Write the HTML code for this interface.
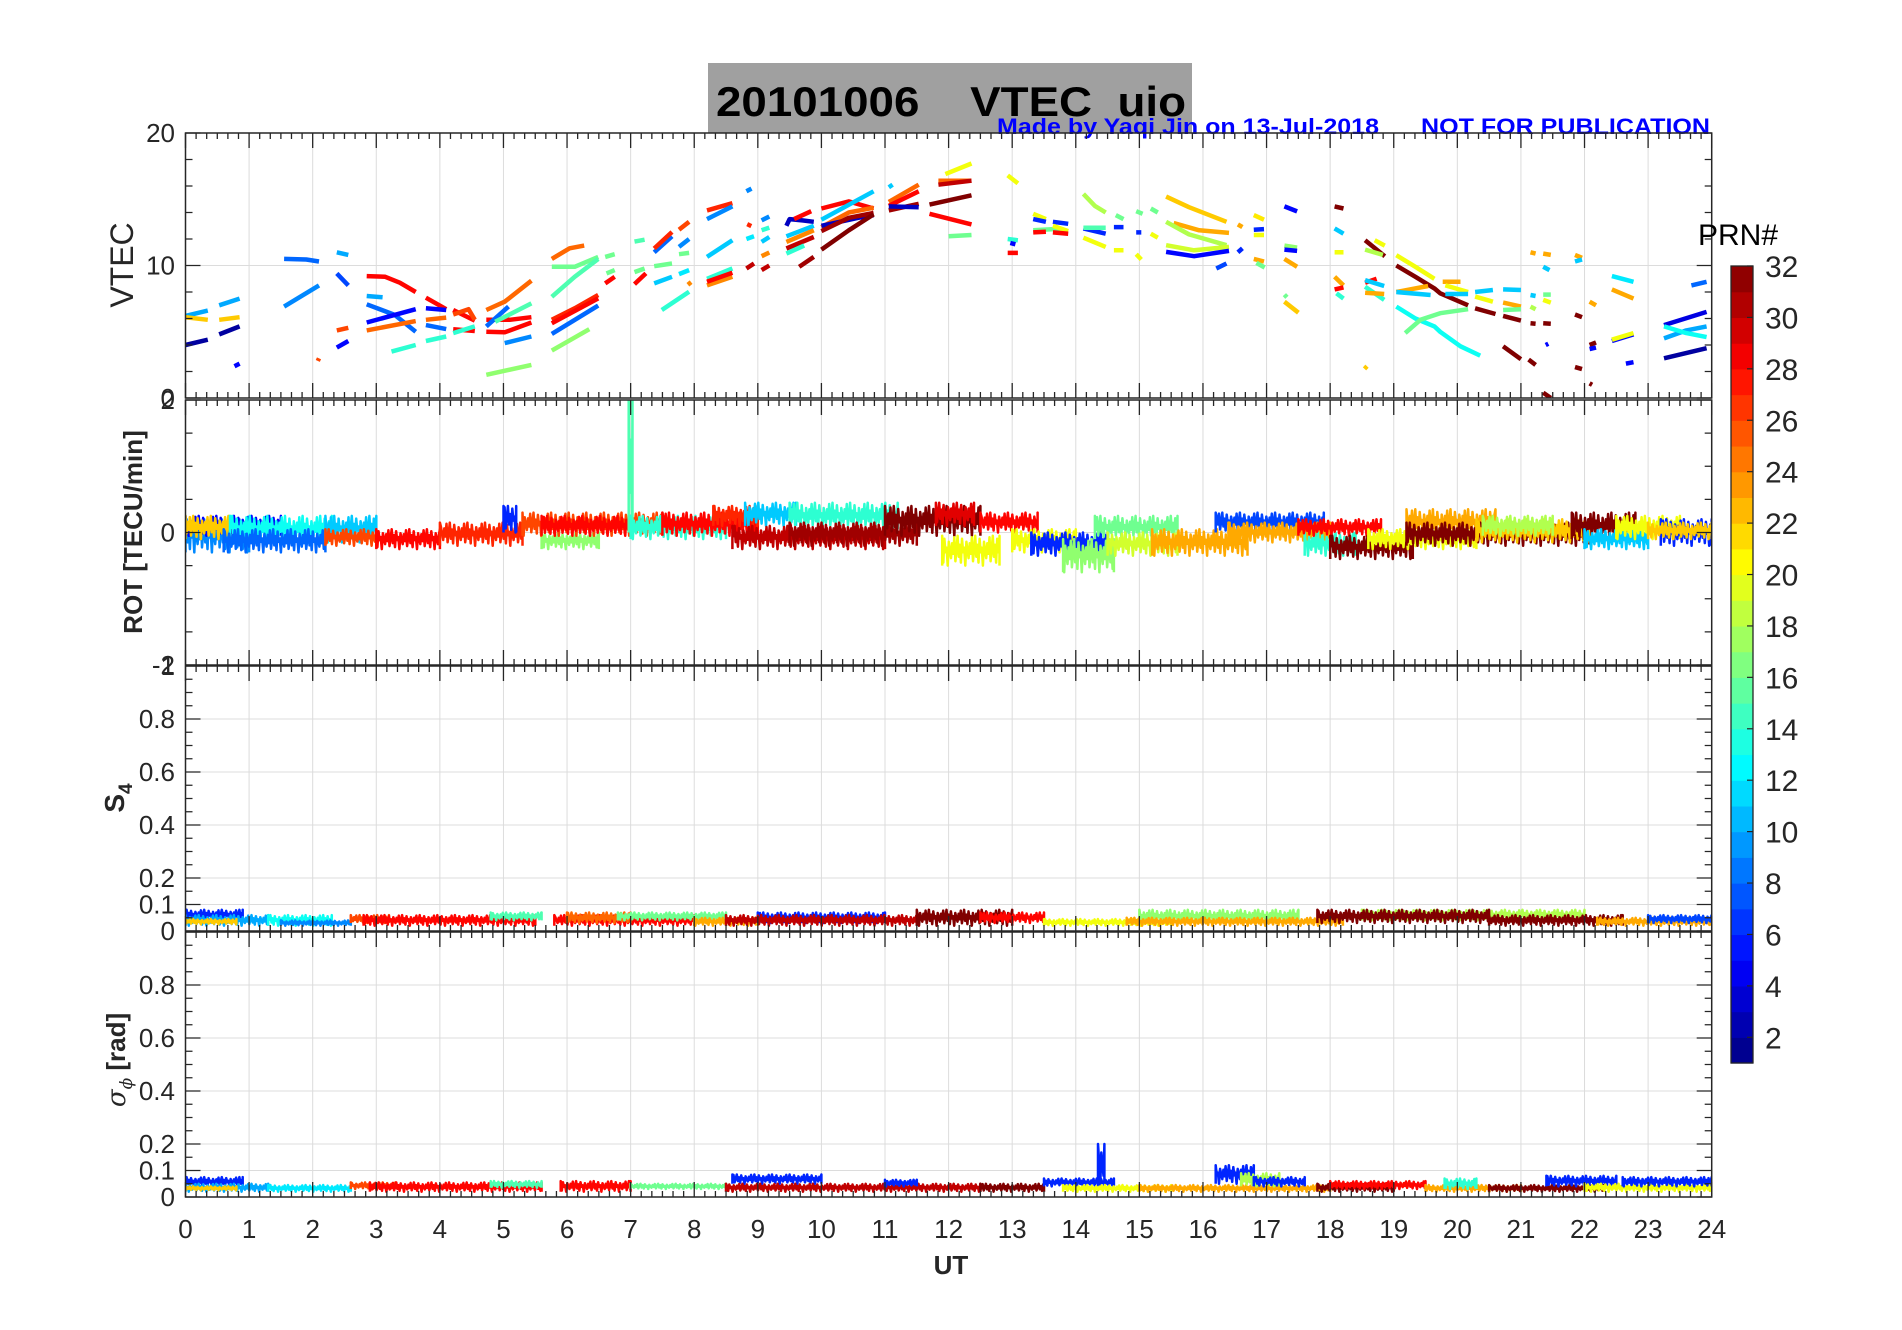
<!DOCTYPE html>
<html><head><meta charset="utf-8"><style>
html,body{margin:0;padding:0;background:#fff;}
svg{display:block;font-family:"Liberation Sans",Arial,sans-serif;}
</style></head><body>
<svg id="fig" width="1902" height="1330" viewBox="0 0 1902 1330" xmlns="http://www.w3.org/2000/svg">
<rect x="0" y="0" width="1902" height="1330" fill="#fff"/>
<rect x="708" y="63" width="484" height="70" fill="#a0a0a0"/>
<text x="716" y="116" font-size="42" font-weight="bold" fill="#000" xml:space="preserve" style="white-space:pre" textLength="470" lengthAdjust="spacingAndGlyphs">20101006    VTEC  uio</text>
<text x="997" y="134" font-size="22" font-weight="bold" fill="#0000ff" textLength="382" lengthAdjust="spacingAndGlyphs">Made by Yaqi Jin on 13-Jul-2018</text>
<text x="1421" y="134" font-size="22" font-weight="bold" fill="#0000ff" textLength="289" lengthAdjust="spacingAndGlyphs">NOT FOR PUBLICATION</text>
<g id="layer"></g>
</svg>
<script>
// ---- data ----
const hours = [0,1,2,3,4,5,6,7,8,9,10,11,12,13,14,15,16,17,18,19,20,21,22,23,24];
const vtecPrn = [10,10,22,22,2,2,5,8,9,26,10,7,26,5,28,10,8,5,25,14,28,5,25,8,14,28,28,26,14,25,28,28,8,15,9,17,25,16,15,27,28,8,17,16,16,28,15,16,28,11,16,8,27,14,26,9,16,12,24,27,9,11,14,24,28,9,27,12,14,9,11,24,30,30,3,28,11,24,30,14,31,28,11,25,3,31,32,11,25,28,31,3,32,28,25,30,20,16,
20,14,5,28,20,6,16,28,6,20,28,18,6,15,20,16,6,20,16,16,6,20,20,22,23,18,19,5,7,23,6,21,6,20,23,16,5,17,5,23,16,22,32,11,20,23,28,14,32,20,18,28,11,14,23,22,20,32,23,11,13,16,23,20,11,11,11,20,32,32,32,32,23,16,11,18,16,20,32,32,32,23,23,11,5,23,11,32,32,32,5,32,23,12,23,5,20,5,2,4,10,13,8];
const vtecArcs = [
[0,6.2,0.35,6.6],[0.53,7.0,0.85,7.5],[0,6.1,0.35,5.9],[0.53,5.9,0.85,6.1],[0,4.0,0.35,4.4],[0.53,4.8,0.85,5.4],[0.77,2.4,0.85,2.6],
[1.55,10.5,1.9,10.45,2.1,10.3],[1.55,6.9,2.1,8.5],[2.08,2.8,2.1,3.0],[2.38,11.0,2.56,10.8],[2.38,9.4,2.56,8.5],[2.38,5.1,2.56,5.3],[2.38,3.8,2.56,4.3],
[2.85,9.2,3.14,9.15,3.37,8.7,3.62,8.0],[2.85,7.7,3.1,7.6],[2.85,7.07,3.29,6.27,3.62,5.0],[2.85,5.7,3.62,6.7],[2.85,5.1,3.62,5.8],[3.24,3.5,3.62,4.0],
[3.78,7.57,4.1,6.7],[3.78,6.77,4.1,6.64],[3.78,5.9,4.1,6.07],[3.78,5.5,4.1,5.2],[3.78,4.3,4.1,4.64],[4.21,6.64,4.55,5.84],[4.21,5.19,4.55,5.06],
[4.21,6.3,4.45,6.7,4.55,5.9],[4.21,4.9,4.55,5.4],[4.73,6.64,5.02,7.27,5.44,8.85],[4.73,5.9,5.1,5.9,5.44,6.1],[4.73,5.0,5.02,4.96,5.44,5.7],
[4.73,5.4,5.08,6.9],[4.87,5.76,5.44,7.14],[5.02,4.14,5.44,4.64],[4.73,1.75,5.44,2.5],[5.76,10.5,6.04,11.3,6.27,11.5],[5.76,9.9,6.12,9.9,6.49,10.65],
[5.76,7.64,6.12,9.15,6.49,10.5],[5.76,5.9,6.12,6.77,6.49,7.77],[5.76,5.64,6.49,7.52],[5.76,4.84,6.49,6.97],[5.76,3.58,6.35,5.19],
[6.6,10.65,6.75,10.85],[6.62,9.4,6.75,9.65],[6.6,8.65,6.75,9.15],[7.06,11.8,7.22,11.95],[7.06,9.5,7.22,9.77],[7.06,8.6,7.24,9.4],
[7.37,8.65,7.65,9.15],[7.37,9.95,7.65,10.15],[7.37,11.0,7.65,12.2],[7.37,11.28,7.65,12.53],[7.49,6.64,7.92,8.02],[7.76,12.7,7.92,13.3],
[7.76,11.4,7.92,12.0],[7.76,10.85,7.92,10.95],[7.76,9.35,7.92,9.65],[7.9,8.55,7.95,8.75],[8.2,14.16,8.6,14.7],[8.2,13.5,8.6,14.46],
[8.2,10.65,8.6,11.9],[8.2,9.0,8.6,9.77],[8.2,8.5,8.6,9.15],[8.2,8.77,8.6,9.45],[8.82,15.6,8.9,15.8],[8.85,12.9,8.88,13.2],[8.82,12.0,8.94,12.2],
[9.06,12.66,9.18,12.86],[9.06,13.4,9.18,13.7],[9.06,11.78,9.18,12.15],[9.06,10.7,9.18,10.98],[8.82,9.77,8.94,10.15],[9.06,9.65,9.18,10.0],
[9.45,13.0,9.5,13.5,9.7,13.4,9.88,13.3],[9.57,13.5,9.84,14.1],[9.45,12.2,9.88,13.0],[9.45,11.78,9.88,12.66],[9.45,11.28,9.88,12.15],[9.45,10.9,9.73,11.5],
[9.65,9.9,9.88,10.65],[10.0,14.3,10.43,14.84,10.82,14.3],[10.0,13.46,10.82,15.6],[10.0,12.9,10.43,14.0,10.82,14.36],[10.0,13.0,10.58,13.6,10.82,13.8],
[10.0,12.6,10.43,13.6,10.82,13.96],[10.0,11.2,10.43,12.66,10.82,13.86],[11.06,15.9,11.12,16.1],[11.06,14.8,11.53,16.1],[11.06,14.5,11.53,15.6],
[11.06,14.16,11.53,14.66],[11.06,14.46,11.53,14.4],[11.7,14.6,12.36,15.3],[11.7,13.9,12.36,13.1],[11.84,16.4,12.36,16.4],[11.84,16.1,12.36,16.4],
[11.95,16.9,12.36,17.7],[12.0,12.2,12.36,12.3],
[12.93,16.8,13.09,16.2],[12.93,12.0,13.09,11.9],[12.97,11.7,13.05,11.6],[12.93,10.95,13.09,10.95],[13.33,13.9,13.53,13.5],[13.33,13.5,13.53,13.3],
[13.33,12.66,13.76,12.78],[13.33,12.5,13.53,12.55],[13.64,13.3,13.88,13.15],[13.64,13.0,13.88,12.6],[13.64,12.5,13.88,12.4],
[14.12,15.4,14.3,14.5,14.47,14.0],[14.12,12.8,14.47,12.4],[14.12,12.85,14.47,12.85],[14.12,12.1,14.47,11.4],[14.63,13.8,14.75,13.5],
[14.6,12.9,14.75,12.9],[14.6,11.15,14.75,11.15],[14.95,14.1,15.05,13.9],[15.18,14.3,15.29,14.0],[14.95,12.5,15.03,12.5],[15.18,12.4,15.29,12.1],
[14.95,10.85,15.03,10.45],[15.42,15.2,15.78,14.4,16.37,13.3],[15.54,13.2,15.94,12.66,16.41,12.46],[15.42,13.3,15.78,12.35,16.37,11.53],
[15.42,11.53,15.86,11.15,16.41,11.4],[15.42,11.03,15.86,10.7,16.41,11.1],[16.21,9.77,16.37,10.15],[16.55,13.1,16.62,12.9],[16.55,11.0,16.62,11.3],
[16.8,13.8,16.96,13.46],[16.8,12.7,16.96,12.75],[16.8,12.3,16.96,12.3],[16.8,10.5,16.96,10.3],[16.84,10.2,16.97,9.85],[17.28,14.46,17.48,14.08],
[17.28,11.5,17.48,11.35],[17.28,11.2,17.48,11.1],[17.28,10.5,17.48,9.9],[17.28,7.8,17.32,7.6],[17.28,7.27,17.5,6.44],[18.07,14.46,18.21,14.3],
[18.07,12.8,18.21,12.4],[18.07,11.0,18.21,11.0],[18.07,9.15,18.21,8.5],[18.07,8.2,18.21,8.35],[18.1,7.9,18.21,7.5],[18.55,11.9,18.86,10.7],
[18.7,11.9,18.86,11.5],[18.55,11.2,18.83,10.8],[18.55,8.7,18.73,9.0],[18.55,8.9,18.85,8.45],[18.55,8.4,18.85,7.4],[18.55,7.95,18.85,7.85],
[18.54,2.2,18.58,2.4],[19.04,10.78,19.34,9.9,19.64,9.0],[19.04,10.0,19.34,9.15,19.64,8.27,19.73,7.9,20.17,7.0],[19.04,8.0,19.54,8.45],
[19.04,8.0,19.58,7.77],[19.04,6.9,19.34,6.0,19.64,5.4,19.73,5.0,20.05,3.9,20.36,3.2],[19.18,4.9,19.42,5.9,19.73,6.4,20.17,6.7],
[19.77,8.77,20.05,8.77],[19.81,8.5,20.17,8.0],[19.81,7.85,20.17,7.85],[20.28,8.0,20.56,8.15],[20.72,8.2,21.0,8.15],[20.28,7.65,20.56,7.27],
[20.28,6.77,20.6,6.34],[20.72,6.2,21.0,5.84],[21.15,5.64,21.23,5.6],[21.35,5.64,21.47,5.6],[20.72,7.2,21.0,6.9],[20.72,6.64,21.0,6.7],
[21.15,7.77,21.23,7.7],[21.15,6.9,21.23,6.7],[21.35,7.8,21.47,7.8],[21.35,7.4,21.47,7.2],[20.72,3.9,21.0,2.93],[21.12,2.9,21.23,2.5],
[21.35,0.4,21.47,0.0],[21.15,11.0,21.23,10.9],[21.35,10.9,21.47,10.8],[21.35,9.9,21.45,9.65],[21.39,4.0,21.43,4.1],[21.85,10.8,21.96,10.58],
[21.85,10.3,21.96,10.45],[21.85,6.3,21.96,6.1],[21.85,2.33,21.96,2.18],[22.08,4.0,22.18,4.2],[22.08,3.7,22.18,3.8],[22.08,1.1,22.12,1.0],
[22.08,7.27,22.18,7.0],[22.43,9.2,22.77,8.77],[22.43,8.2,22.77,7.5],[22.43,4.3,22.77,4.8],[22.43,4.4,22.77,4.9],[22.65,2.6,22.77,2.7],
[23.25,3.0,23.92,3.76],[23.25,5.5,23.92,6.5],[23.25,4.5,23.6,5.1,23.92,5.4],[23.25,5.4,23.6,4.9,23.92,4.6],[23.68,8.5,23.92,8.77]
];
// ROT bands: [prn, tStart, tEnd, low, high]
const rotBands = [[9,0,1.0,-0.3,0.2],[5,0,1.5,-0.05,0.25],[22,0,0.7,-0.1,0.25],[13,0.7,2.3,-0.15,0.25],[8,0.6,2.2,-0.3,0.05],[11,2.2,3.0,-0.15,0.25],
[26,2.2,3.0,-0.2,0.05],[28,3.0,4.0,-0.25,0.05],[27,4.0,5.3,-0.2,0.15],[6,5.0,5.2,0.0,0.4],[17,5.6,6.5,-0.25,0],[26,5.3,7.5,-0.05,0.3],
[28,5.6,7.0,-0.05,0.25],[15,6.97,7.03,0.0,2.0],[14,7.0,8.5,-0.1,0.25],[28,7.5,9.0,-0.05,0.3],[27,8.3,9.0,0.1,0.4],[11,8.8,9.6,0.1,0.45],
[14,9.5,11.2,0.05,0.45],[30,8.6,11.0,-0.25,0.1],[31,9.5,11.5,-0.2,0.15],[32,11.0,12.5,-0.05,0.4],[29,11.8,12.4,0.1,0.45],[20,11.9,12.8,-0.5,-0.05],
[28,12.5,13.4,0,0.3],[20,13.0,14.0,-0.3,0.05],[6,13.3,14.5,-0.35,0],[17,13.8,14.6,-0.6,-0.1],[16,14.3,15.6,-0.1,0.25],[19,14.5,15.6,-0.35,0],
[23,15.2,16.7,-0.35,0.05],[7,16.2,17.9,0.0,0.3],[23,16.4,18.0,-0.15,0.15],[14,17.6,18.4,-0.35,0],[28,17.5,18.8,-0.05,0.2],[32,18.0,19.3,-0.4,-0.05],
[20,18.6,20.3,-0.25,0.05],[23,19.2,20.6,-0.05,0.35],[32,19.2,22.1,-0.2,0.15],[22,20.3,22.1,-0.15,0.2],[18,20.4,21.5,-0.05,0.25],[32,21.8,22.8,-0.1,0.3],
[11,22.0,23.0,-0.25,0.05],[20,22.5,23.5,-0.1,0.25],[6,23.2,24.0,-0.2,0.2],[22,23.0,24.0,-0.1,0.15]];
const s4Bands = [[6,0,0.9,0.04,0.08],[10,0,1.3,0.02,0.06],[22,0,0.8,0.025,0.045],[13,1.3,2.3,0.02,0.06],[9,1.5,2.6,0.02,0.04],[26,2.6,3.2,0.03,0.06],
[28,2.8,5.5,0.02,0.06],[15,4.8,5.6,0.04,0.07],[28,5.8,8.0,0.02,0.06],[25,6.0,7.0,0.03,0.07],[16,6.8,8.5,0.04,0.07],[23,8.0,9.0,0.02,0.05],
[6,9.0,11.0,0.03,0.07],[30,8.5,11.5,0.02,0.06],[32,11.5,13.0,0.02,0.08],[28,12.5,13.5,0.03,0.07],[20,13.5,15.5,0.02,0.045],[17,15.0,17.5,0.03,0.08],
[23,14.8,18.2,0.02,0.05],[18,18.5,22.0,0.04,0.08],[32,17.8,20.5,0.03,0.08],[32,20.5,22.6,0.02,0.06],[23,22.2,24.0,0.02,0.05],[7,23.0,24.0,0.03,0.06]];
const sigBands = [[6,0,0.9,0.04,0.075],[10,0,1.3,0.02,0.05],[22,0,0.8,0.025,0.04],[12,1.3,2.6,0.02,0.045],[26,2.6,3.3,0.03,0.055],[28,2.9,5.6,0.02,0.055],
[15,4.8,5.6,0.035,0.06],[28,5.9,7.0,0.02,0.06],[16,7.0,8.5,0.03,0.05],[6,8.6,10.0,0.05,0.085],[30,8.5,12.5,0.02,0.05],[6,11.0,11.5,0.04,0.065],
[32,12.5,13.5,0.02,0.05],[6,13.5,14.6,0.04,0.07],[6,14.35,14.45,0.04,0.2],[20,13.8,15.5,0.02,0.045],[23,15.0,18.0,0.02,0.045],[6,16.2,16.8,0.05,0.12],
[18,16.6,17.2,0.04,0.09],[6,16.8,17.6,0.04,0.075],[32,17.8,19.0,0.02,0.05],[28,18.0,19.5,0.03,0.06],[23,19.5,21.0,0.02,0.045],[14,19.8,20.3,0.03,0.07],
[32,20.5,22.3,0.02,0.045],[6,21.4,22.5,0.04,0.08],[20,22.0,24.0,0.02,0.05],[6,22.6,24.0,0.04,0.075]];
const cbTicks = [2,4,6,8,10,12,14,16,18,20,22,24,26,28,30,32];

// ---- geometry ----
const X0=185.5, X1=1711.7;
const panels=[{t:133,b:398,min:0,max:20},{t:400,b:665,min:-2,max:2},{t:666,b:931,min:0,max:1},{t:932,b:1197,min:0,max:1}];
const NS="http://www.w3.org/2000/svg";
const layer=document.getElementById('layer');
function xs(t){return X0+t*(X1-X0)/24;}
function ys(p,v){const P=panels[p];return P.b-(v-P.min)/(P.max-P.min)*(P.b-P.t);}
function jet(prn){const x=Math.min(1,Math.max(0,(prn-1)/31));
 const c=v=>Math.round(255*Math.min(1,Math.max(0,v)));
 return `rgb(${c(1.5-Math.abs(4*x-3))},${c(1.5-Math.abs(4*x-2))},${c(1.5-Math.abs(4*x-1))})`;}
function mk(tag,attrs,parent){const e=document.createElementNS(NS,tag);for(const k in attrs)e.setAttribute(k,attrs[k]);(parent||layer).appendChild(e);return e;}
const defs=mk('defs',{});
panels.forEach((P,i)=>{const cp=mk('clipPath',{id:'clip'+i},defs);mk('rect',{x:X0,y:P.t,width:X1-X0,height:P.b-P.t},cp);});

// grid
panels.forEach((P,i)=>{
  hours.forEach(h=>{const g=mk('line',{x1:xs(h),x2:xs(h),y1:P.t,y2:P.b,stroke:'#dcdcdc','stroke-width':1});
    
    });
});
const majors=[[0,10,20],[-2,0,2],[0,0.1,0.2,0.4,0.6,0.8,1],[0,0.1,0.2,0.4,0.6,0.8,1]];
majors.forEach((arr,i)=>arr.forEach(v=>{const g=mk('line',{x1:X0,x2:X1,y1:ys(i,v),y2:ys(i,v),stroke:'#dcdcdc','stroke-width':1});
  
  }));

// VTEC arcs
const vg=mk('g',{'clip-path':'url(#clip0)'});


vtecArcs.forEach((a,k)=>{let pts=[];for(let j=0;j<a.length;j+=2)pts.push(xs(a[j]).toFixed(1)+','+ys(0,a[j+1]).toFixed(1));
  const pl=mk('polyline',{points:pts.join(' '),fill:'none',stroke:jet(vtecPrn[k]),'stroke-width':4.5,'stroke-linecap':'butt','stroke-linejoin':'round'},vg);
  
  });

// noisy bands
const PAT=[1,0.3,0.7,0.1,0.9,0.45,0.6,0,0.8,0.5,0.25,0.75,0.4,0.95,0.15,0.55];
function bands(list,p,name,w){
  const g=mk('g',{'clip-path':'url(#clip'+p+')'});
  
  
  list.forEach((b,k)=>{const [prn,t0,t1,lo,hi]=b;const xa=xs(t0),xb=xs(t1);let pts=[];let n=0;
    pts.push(xa.toFixed(1)+','+ys(p,lo).toFixed(1));
    pts.push(xa.toFixed(1)+','+ys(p,hi).toFixed(1));
    for(let x=xa+1.1;x<=xb+0.01;x+=1.1){const f=PAT[(n+k*5)%PAT.length];n++;pts.push(x.toFixed(1)+','+ys(p,lo+(hi-lo)*f).toFixed(1));}
    pts.push(xb.toFixed(1)+','+ys(p,hi).toFixed(1));
    pts.push(xb.toFixed(1)+','+ys(p,lo).toFixed(1));
    const pl=mk('polyline',{points:pts.join(' '),fill:'none',stroke:jet(prn),'stroke-width':w,'stroke-linejoin':'round'},g);
    
    });
}
bands(rotBands,1,'rot',2.5);
bands(s4Bands,2,'s4',2.5);
bands(sigBands,3,'sigma-phi',2.5);

// axes boxes & ticks
const AX='#262626';
panels.forEach((P,i)=>{
  const r=mk('rect',{x:X0,y:P.t,width:X1-X0,height:P.b-P.t,fill:'none',stroke:AX,'stroke-width':1.5});
  
  
  let d='';
  for(let m=0;m<=24*6;m++){const x=xs(m/6);const L=(m%6===0)?15:6;d+=`M${x},${P.b}v${-L}M${x},${P.t}v${L}`;}
  let step=i===0?2:(i===1?0.5:0.05);
  for(let v=P.min;v<=P.max+1e-9;v+=step){const y=ys(i,v);const isMaj=majors[i].some(m=>Math.abs(m-v)<1e-6);const L=isMaj?15:7;d+=`M${X0},${y}h${L}M${X1},${y}h${-L}`;}
  mk('path',{d:d,stroke:AX,'stroke-width':1.3,fill:'none'});
});
// y tick labels
const ylab=[['0','10','20'],['-2','0','2'],['0','0.1','0.2','0.4','0.6','0.8','1'],['0','0.1','0.2','0.4','0.6','0.8','']];
majors.forEach((arr,i)=>arr.forEach((v,j)=>{if(!ylab[i][j])return;const t=mk('text',{x:175,y:ys(i,v)+9,'font-size':26,fill:AX,'text-anchor':'end'});t.textContent=ylab[i][j];
  
  }));
// x tick labels
hours.forEach(h=>{const t=mk('text',{x:xs(h),y:1238,'font-size':26,fill:AX,'text-anchor':'middle'});t.textContent=h;
  
  });
const ut=mk('text',{x:951,y:1274,'font-size':26,'font-weight':'bold',fill:AX,'text-anchor':'middle'});ut.textContent='UT';


// y axis titles
function ytitle(txt,x,y,size,bold,name){const t=mk('text',{x:x,y:y,'font-size':size,'font-weight':bold?'bold':'normal',fill:AX,'text-anchor':'middle',transform:`rotate(-90 ${x} ${y})`});t.innerHTML=txt;
  
  }
ytitle('VTEC',133,265,32,false,'vtec-axis-title');
ytitle('ROT [TECU/min]',142,532,26,true,'rot-axis-title');
ytitle('S<tspan font-size="19" dy="8">4</tspan>',124,798,28,true,'s4-axis-title');
ytitle('<tspan font-style="italic" font-weight="normal" font-family="DejaVu Serif, serif">σ</tspan><tspan font-size="17" dy="7" font-style="italic" font-weight="normal" font-family="DejaVu Serif, serif">ϕ</tspan><tspan dy="-7"> [rad]</tspan>',125,1060,26,true,'sigma-phi-axis-title');

// colorbar
const CB={x:1731,w:22,top:266,bot:1063,min:1,max:32};
const cby=v=>CB.bot-(v-CB.min)/(CB.max-CB.min)*(CB.bot-CB.top);
const cg=mk('g',{});


for(let p=1;p<=31;p++){mk('rect',{x:CB.x,y:cby(p+1),width:CB.w,height:cby(p)-cby(p+1)+0.6,fill:jet(p+0.5)},cg);}
mk('rect',{x:CB.x,y:CB.top,width:CB.w,height:CB.bot-CB.top,fill:'none',stroke:AX,'stroke-width':1.3},cg);
cbTicks.forEach(v=>{mk('line',{x1:CB.x+CB.w-6,x2:CB.x+CB.w,y1:cby(v),y2:cby(v),stroke:AX,'stroke-width':1.2},cg);
  const t=mk('text',{x:1765,y:cby(v)+11,'font-size':30,fill:AX},cg);t.textContent=v;
  
  });
const prn=mk('text',{x:1698,y:245,'font-size':30,fill:'#000'});prn.textContent='PRN#';


</script>
</body></html>
